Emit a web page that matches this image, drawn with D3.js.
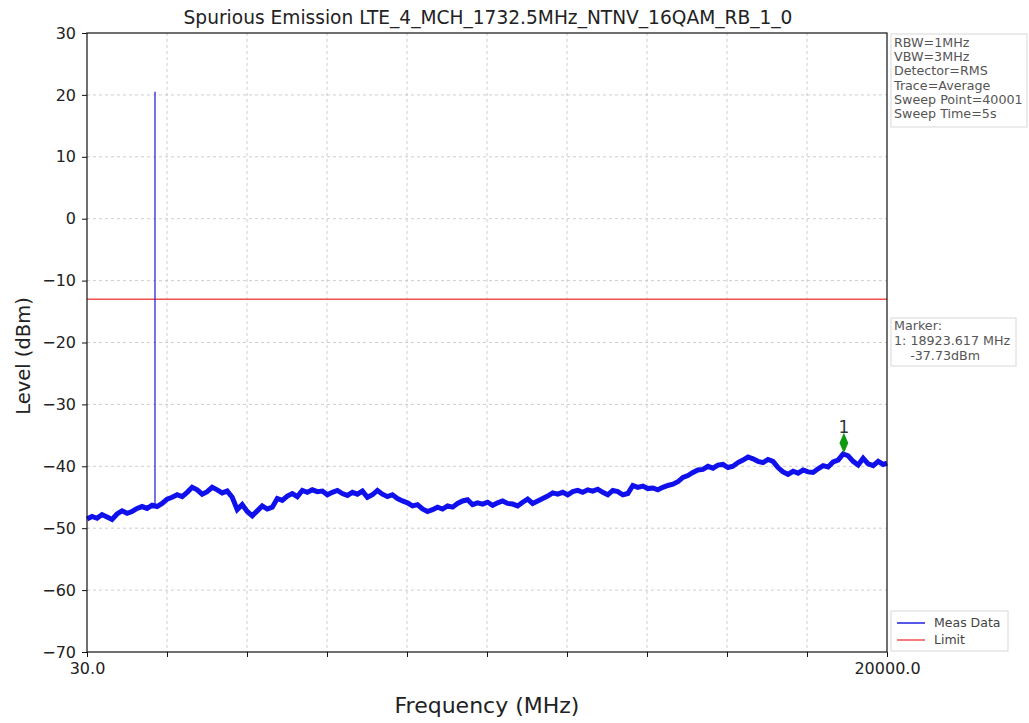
<!DOCTYPE html>
<html><head><meta charset="utf-8">
<script src="https://cdn.jsdelivr.net/npm/d3@7"></script>
<style>body{margin:0;background:#fff;}svg{display:block;font-family:"DejaVu Sans",sans-serif;}</style>
</head><body>
<svg id="c" width="1029" height="723"></svg>
<script>
// ---- data ----
const title = "Spurious Emission LTE_4_MCH_1732.5MHz_NTNV_16QAM_RB_1_0";
const xDomain = [30, 20000];
const yTicks = [30, 20, 10, 0, -10, -20, -30, -40, -50, -60, -70];
const xTickLabels = ["30.0", "20000.0"];
const freqs = [
  30,155,280,405,530,655,780,905,1030,1155,
  1280,1405,1530,1655,1780,1905,2030,2155,2280,2405,
  2530,2655,2780,2905,3030,3155,3280,3405,3530,3655,
  3780,3905,4030,4155,4280,4405,4530,4655,4780,4905,
  5030,5155,5280,5405,5530,5655,5780,5905,6030,6155,
  6280,6405,6530,6655,6780,6905,7030,7155,7280,7405,
  7530,7655,7780,7905,8030,8155,8280,8405,8530,8655,
  8780,8905,9030,9155,9280,9405,9530,9655,9780,9905,
  10030,10155,10280,10405,10530,10655,10780,10905,11030,11155,
  11280,11405,11530,11655,11780,11905,12030,12155,12280,12405,
  12530,12655,12780,12905,13030,13155,13280,13405,13530,13655,
  13780,13905,14030,14155,14280,14405,14530,14655,14780,14905,
  15030,15155,15280,15405,15530,15655,15780,15905,16030,16155,
  16280,16405,16530,16655,16780,16905,17030,17155,17280,17405,
  17530,17655,17780,17905,18030,18155,18280,18405,18530,18655,
  18780,18905,19030,19155,19280,19405,19530,19655,19780,19905,
  20000];
const levels = [
  -48.5,-48.1,-48.4,-47.8,-48.2,-48.6,-47.7,-47.2,-47.6,-47.3,
  -46.8,-46.5,-46.8,-46.3,-46.5,-46.0,-45.3,-45.0,-44.6,-44.9,
  -44.2,-43.4,-43.8,-44.5,-44.1,-43.4,-43.8,-44.3,-44.0,-45.0,
  -47.0,-46.2,-47.3,-48.0,-47.2,-46.4,-46.9,-46.6,-45.2,-45.5,
  -44.8,-44.4,-44.9,-43.9,-44.2,-43.8,-44.1,-44.0,-44.6,-44.2,
  -43.9,-44.4,-44.7,-44.2,-44.5,-44.0,-45.0,-44.6,-43.9,-44.5,
  -44.9,-44.6,-45.2,-45.6,-45.9,-46.4,-46.2,-46.9,-47.3,-47.0,
  -46.6,-46.9,-46.4,-46.6,-46.0,-45.6,-45.4,-46.2,-45.9,-46.1,
  -45.8,-46.3,-45.9,-45.6,-46.0,-46.1,-46.4,-45.8,-45.3,-46.0,
  -45.6,-45.2,-44.8,-44.3,-44.5,-44.2,-44.6,-44.1,-43.9,-44.2,
  -43.8,-44.0,-43.7,-44.2,-44.6,-43.9,-44.1,-44.6,-44.4,-43.1,
  -43.4,-43.2,-43.6,-43.5,-43.8,-43.4,-43.1,-42.9,-42.5,-41.8,
  -41.5,-41.0,-40.6,-40.5,-40.0,-40.3,-39.8,-39.7,-40.2,-40.0,
  -39.4,-39.0,-38.5,-38.8,-39.2,-39.4,-38.9,-39.2,-40.2,-40.9,
  -41.3,-40.8,-41.1,-40.6,-40.9,-41.0,-40.4,-39.9,-40.1,-39.3,
  -39.0,-38.0,-38.3,-39.2,-39.8,-38.7,-39.6,-39.9,-39.2,-39.7,
  -39.5];
const spikeFreq = 1727, spikeBaseLevel = -46.4, spikeLevel = 20.5;
const limitLevel = -13;
const markerFreq = 18923.617, markerLevel = -37.73, markerLabel = "1";
const infoLines = ["RBW=1MHz", "VBW=3MHz", "Detector=RMS", "Trace=Average", "Sweep Point=40001", "Sweep Time=5s"];
const markerLines = ["Marker:", "1: 18923.617 MHz", "    -37.73dBm"];
const legendItems = [{name: "Meas Data", color: "#1f1fe0"}, {name: "Limit", color: "#f05050"}];

// ---- chart ----
const svg = d3.select("#c");
const L = 87, R = 887, T = 33, B = 652;
const x = d3.scaleLinear().domain(xDomain).range([L, R]);
const y = d3.scaleLinear().domain([-70, 30]).range([B, T]);
const xGrid = d3.range(11).map(i => xDomain[0] + i * (xDomain[1] - xDomain[0]) / 10);

svg.append("text").attr("x", 488).attr("y", 24).attr("text-anchor", "middle")
  .attr("font-size", 18.6).attr("fill", "#222").text(title);

// grid
const g = svg.append("g");
g.selectAll(".hg").data(yTicks.slice(1, -1)).join("line")
  .attr("x1", L).attr("x2", R).attr("y1", d => y(d)).attr("y2", d => y(d))
  .attr("stroke", "#c0c0c0").attr("stroke-width", 0.8).attr("stroke-dasharray", "3,3");
g.selectAll(".vg").data(xGrid.slice(1, -1)).join("line")
  .attr("y1", T).attr("y2", B).attr("x1", d => x(d)).attr("x2", d => x(d))
  .attr("stroke", "#c0c0c0").attr("stroke-width", 0.8).attr("stroke-dasharray", "3,3");

// limit
svg.append("line").attr("x1", L).attr("x2", R).attr("y1", y(limitLevel)).attr("y2", y(limitLevel))
  .attr("stroke", "#f05050").attr("stroke-width", 1.5);

// spike
svg.append("line").attr("x1", x(spikeFreq)).attr("x2", x(spikeFreq))
  .attr("y1", y(spikeBaseLevel)).attr("y2", y(spikeLevel))
  .attr("stroke", "#2a2ad0").attr("stroke-width", 1.3);

// trace
const pts = freqs.map((f, i) => [f, levels[i]]);
svg.append("path").datum(pts)
  .attr("d", d3.line().x(d => x(d[0])).y(d => y(d[1])))
  .attr("fill", "none").attr("stroke", "#1010ec").attr("stroke-width", 5).attr("stroke-linejoin", "miter");

// marker
const markerOffset = 1.5;
const mx = x(markerFreq), my = y(markerLevel + markerOffset);
svg.append("path").attr("d", d3.symbol(d3.symbolDiamond, 120)())
  .attr("transform", `translate(${mx},${my}) scale(0.75,1)`).attr("fill", "#109a10");
svg.append("text").attr("x", mx).attr("y", my - 10).attr("text-anchor", "middle")
  .attr("font-size", 17).attr("fill", "#333").text(markerLabel);

// frame
svg.append("rect").attr("x", L).attr("y", T).attr("width", R - L).attr("height", B - T)
  .attr("fill", "none").attr("stroke", "#111").attr("stroke-width", 1.2);

// axes
const yAxis = d3.axisLeft(y).tickValues(yTicks).tickSize(5).tickPadding(6)
  .tickFormat(d => d < 0 ? "\u2212" + Math.abs(d) : d);
const ya = svg.append("g").attr("transform", `translate(${L},0)`).call(yAxis);
const xAxis = d3.axisBottom(x).tickValues(xGrid).tickSize(5).tickPadding(6)
  .tickFormat((d, i) => i === 0 ? xTickLabels[0] : (i === xGrid.length - 1 ? xTickLabels[1] : ""));
const xa = svg.append("g").attr("transform", `translate(0,${B})`).call(xAxis);
[ya, xa].forEach(a => {
  a.select(".domain").remove();
  a.selectAll("line").attr("stroke", "#111");
  a.selectAll("text").attr("font-size", 16).attr("fill", "#222").attr("font-family", "DejaVu Sans");
});

svg.append("text").attr("transform", "translate(30,356) rotate(-90)").attr("text-anchor", "middle")
  .attr("font-size", 19.5).attr("fill", "#222").text("Level (dBm)");
svg.append("text").attr("x", 487).attr("y", 713).attr("text-anchor", "middle")
  .attr("font-size", 22).attr("fill", "#222").text("Frequency (MHz)");

// info box
function box(x0, y0, w, h) {
  svg.append("rect").attr("x", x0).attr("y", y0).attr("width", w).attr("height", h)
    .attr("fill", "#fff").attr("stroke", "#d8d8d8").attr("stroke-width", 1);
}
box(891, 34, 136, 93);
svg.append("g").selectAll("text").data(infoLines).join("text")
  .attr("x", 894).attr("y", (d, i) => 47 + i * 14.2).attr("font-size", 12.7).attr("fill", "#555").text(d => d);
box(891, 318, 125, 48);
svg.append("g").selectAll("text").data(markerLines).join("text")
  .attr("x", 894).attr("y", (d, i) => 330 + i * 15).attr("font-size", 12.7).attr("fill", "#555")
  .attr("xml:space", "preserve").style("white-space", "pre").text(d => d);
box(891, 611, 117, 40);
const lg = svg.append("g").selectAll("g").data(legendItems).join("g")
  .attr("transform", (d, i) => `translate(897,${623 + i * 17})`);
lg.append("line").attr("x1", 0).attr("x2", 28).attr("stroke", d => d.color).attr("stroke-width", 1.5);
lg.append("text").attr("x", 37).attr("y", 4).attr("font-size", 12.5).attr("fill", "#444").text(d => d.name);
</script>
</body></html>
